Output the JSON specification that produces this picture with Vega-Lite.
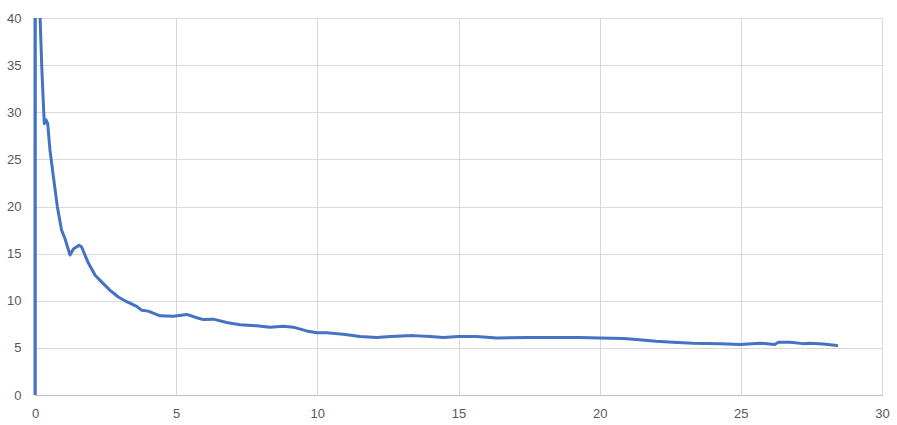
{
  "$schema": "https://vega.github.io/schema/vega-lite/v6.json",
  "width": 847,
  "height": 377,
  "autosize": "none",
  "padding": {"left": 35, "top": 18, "right": 15, "bottom": 30},
  "background": "white",
  "config": {"view": {"stroke": null}},
  "data": {"values": [
    {"x": 0, "y": 0},
    {"x": 0.01, "y": 90},
    {"x": 0.18, "y": 40},
    {"x": 0.24, "y": 34.8},
    {"x": 0.29, "y": 31.3},
    {"x": 0.33, "y": 28.8},
    {"x": 0.39, "y": 29.2},
    {"x": 0.45, "y": 28.8},
    {"x": 0.53, "y": 26},
    {"x": 0.65, "y": 23.2},
    {"x": 0.79, "y": 20.0},
    {"x": 0.94, "y": 17.5},
    {"x": 1.06, "y": 16.6},
    {"x": 1.24, "y": 14.85},
    {"x": 1.36, "y": 15.5},
    {"x": 1.56, "y": 15.9},
    {"x": 1.65, "y": 15.7},
    {"x": 1.89, "y": 14.0},
    {"x": 2.13, "y": 12.7},
    {"x": 2.36, "y": 12.0},
    {"x": 2.66, "y": 11.1},
    {"x": 2.95, "y": 10.4},
    {"x": 3.25, "y": 9.9},
    {"x": 3.6, "y": 9.4},
    {"x": 3.78, "y": 9.0},
    {"x": 4.01, "y": 8.9},
    {"x": 4.43, "y": 8.4},
    {"x": 4.9, "y": 8.35},
    {"x": 5.37, "y": 8.55},
    {"x": 5.73, "y": 8.2},
    {"x": 5.96, "y": 8.0},
    {"x": 6.32, "y": 8.05},
    {"x": 6.79, "y": 7.7},
    {"x": 7.26, "y": 7.45},
    {"x": 7.85, "y": 7.35},
    {"x": 8.32, "y": 7.2},
    {"x": 8.8, "y": 7.3},
    {"x": 9.15, "y": 7.2},
    {"x": 9.62, "y": 6.8},
    {"x": 9.98, "y": 6.6},
    {"x": 10.33, "y": 6.6},
    {"x": 10.92, "y": 6.45},
    {"x": 11.51, "y": 6.2},
    {"x": 12.1, "y": 6.1},
    {"x": 12.58, "y": 6.2},
    {"x": 13.4, "y": 6.3},
    {"x": 14.0, "y": 6.2},
    {"x": 14.46, "y": 6.1},
    {"x": 15.0, "y": 6.2},
    {"x": 15.65, "y": 6.2},
    {"x": 16.35, "y": 6.05},
    {"x": 17.5, "y": 6.1},
    {"x": 18.48, "y": 6.1},
    {"x": 19.3, "y": 6.1},
    {"x": 20.0, "y": 6.05},
    {"x": 20.84, "y": 6.0},
    {"x": 21.3, "y": 5.9},
    {"x": 22.0, "y": 5.7},
    {"x": 22.6, "y": 5.6},
    {"x": 23.3, "y": 5.5},
    {"x": 24.26, "y": 5.45},
    {"x": 24.97, "y": 5.35},
    {"x": 25.68, "y": 5.5},
    {"x": 26.2, "y": 5.35},
    {"x": 26.33, "y": 5.6},
    {"x": 26.75, "y": 5.6},
    {"x": 27.2, "y": 5.45},
    {"x": 27.45, "y": 5.5},
    {"x": 27.92, "y": 5.4},
    {"x": 28.4, "y": 5.25}
  ]},
  "encoding": {
    "x": {
      "field": "x", "type": "quantitative",
      "scale": {"domain": [0, 30], "nice": false, "zero": false},
      "axis": {
        "title": null, "values": [0, 5, 10, 15, 20, 25, 30],
        "grid": true, "gridColor": "#d9d9d9", "gridWidth": 1,
        "domain": true, "domainColor": "#bfbfbf", "domainWidth": 1,
        "ticks": false, "labelPadding": 12, "labelFlush": false,
        "labelFont": "Liberation Sans", "labelFontSize": 13, "labelColor": "#595959"
      }
    },
    "y": {
      "field": "y", "type": "quantitative",
      "scale": {"domain": [0, 40], "nice": false},
      "axis": {
        "title": null, "values": [0, 5, 10, 15, 20, 25, 30, 35, 40],
        "grid": true, "gridColor": "#d9d9d9", "gridWidth": 1,
        "domain": false, "ticks": false, "labelPadding": 14, "labelFlush": false,
        "labelFont": "Liberation Sans", "labelFontSize": 13, "labelColor": "#595959"
      }
    }
  },
  "layer": [
    {
      "mark": {"type": "line", "color": "#4472C4", "strokeWidth": 3, "clip": true, "strokeJoin": "round", "strokeCap": "round"}
    },
    {
      "data": {"values": [{"x": 0, "y": 0, "y2": 40}]},
      "mark": {"type": "rule", "color": "#4472C4", "strokeWidth": 3},
      "encoding": {"y2": {"field": "y2"}}
    }
  ]
}
